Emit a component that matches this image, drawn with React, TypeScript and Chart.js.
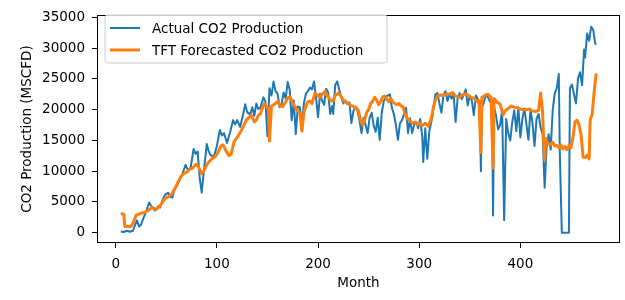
import React, { useEffect, useRef } from "react";
import { Chart, registerables } from "chart.js";

Chart.register(...registerables);

const FONT_FAMILY = "'DejaVu Sans', 'Liberation Sans', sans-serif";
const FONT_SIZE = 13.5;

const actualLabel = "Actual CO2 Production";
const forecastLabel = "TFT Forecasted CO2 Production";
const xTitle = "Month";
const yTitle = "CO2 Production (MSCFD)";

const xTickValues = [0, 100, 200, 300, 400];
const yTickValues = [0, 5000, 10000, 15000, 20000, 25000, 30000, 35000];

const actualMonths = [
  5, 8, 11, 14, 17, 19, 21, 23, 25, 28,
  30, 33, 36, 39, 42, 44, 46, 49, 52, 54,
  56, 58, 61, 63, 66, 69, 71, 74, 77, 79,
  81, 83, 85, 87, 90, 92, 94, 97, 100, 103,
  105, 107, 110, 113, 116, 118, 120, 123, 126, 128,
  130, 133, 135, 137, 139, 141, 143, 146, 148, 150,
  152, 154, 156, 158, 160, 162, 164, 166, 168, 170,
  172, 174, 176, 178, 180, 182, 184, 186, 188, 190,
  192, 194, 196, 198, 200, 202, 204, 206, 208, 210,
  212, 214, 215, 217, 219, 221, 223, 225, 227, 229,
  231, 233, 235, 237, 239, 241, 243, 245, 247, 249,
  251, 253, 255, 257, 259, 261, 263, 265, 268, 271,
  273, 275, 277, 279, 281, 283, 285, 287, 289, 291,
  293, 295, 297, 299, 301, 303, 304, 306, 308, 310,
  313, 316, 318, 320, 322, 324, 326, 328, 330, 332,
  334, 336, 338, 340, 342, 344, 346, 348, 350, 352,
  354, 356, 358, 360, 361, 362, 364, 366, 368, 370,
  372, 373, 374, 376, 378, 380, 382, 384, 386, 388,
  390, 392, 394, 396, 398, 400, 402, 404, 406, 408,
  410, 412, 414, 416, 418, 420, 422, 424, 426, 428,
  430, 432, 434, 436, 438, 439, 441, 448, 449, 451,
  453, 455, 457, 459, 461, 463, 464, 466, 468, 470,
  472, 474, 475,
];

const actualValues = [
  200, 100, 300, 150, 300, 1200, 2000, 1000, 1300, 2600,
  3400, 4900, 4100, 3600, 4300, 4100, 5200, 6200, 6500, 5800,
  5700, 7000, 7800, 8600, 9600, 11000, 10300, 10500, 13600, 12800,
  13200, 8900, 6500, 9800, 14400, 13200, 12600, 12300, 14100, 16700,
  15800, 16200, 14600, 16300, 18300, 17600, 18300, 17200, 19300, 20900,
  19600, 19200, 20400, 19000, 21000, 20100, 20300, 22000, 21300, 15700,
  23500, 22300, 24600, 23000, 22600, 20400, 21000, 22800, 21800, 24500,
  23200, 18300, 21500, 16000, 20500, 20400, 17500, 21000, 22600, 23000,
  23600, 23300, 24600, 22000, 18800, 22600, 21500, 20800, 23400, 22800,
  19300, 20600, 19300, 24000, 24600, 23200, 22000, 21000, 21500, 20900,
  21200, 17800, 19800, 20500, 19800, 18200, 16200, 18700, 17500, 16200,
  18700, 19500, 17400, 16400, 18700, 15100, 19500, 21400, 22200, 22500,
  20300, 19300, 17500, 15100, 17800, 18300, 19300, 20300, 16200, 18600,
  16200, 17500, 18000, 17000, 18500, 15700, 11500, 17000, 12000, 16500,
  18800, 22500, 22700, 21000, 19500, 22400, 23000, 21400, 22600, 21800,
  22500, 18000, 21900, 22700, 21700, 22400, 23300, 20700, 22300, 21500,
  19100, 22300, 21700, 20000, 10000, 20400, 21200, 22500, 22000, 21300,
  21600, 2800, 20500, 19000, 16800, 17500, 20000, 2000, 18500, 16200,
  15000, 18000, 19900, 16500, 20400, 15500, 18500, 20200, 17600, 15100,
  20000, 17800, 14100, 18500, 19300, 17100, 16000, 7300, 14000, 16000,
  13500, 20000, 22700, 23500, 25800, 13000, 0, 0, 23500, 24100,
  22500, 21000, 25100, 26100, 24000, 29800, 28500, 32400, 31200, 33500,
  33000, 30800, 30600,
];

const forecastMonths = [
  5, 8, 9, 12, 15, 17, 20, 23, 26, 29,
  32, 36, 40, 43, 46, 49, 52, 55, 58, 61,
  64, 67, 70, 73, 76, 79, 81, 83, 85, 87,
  90, 92, 95, 98, 101, 104, 106, 109, 112, 114,
  117, 120, 123, 126, 129, 132, 134, 137, 139, 141,
  143, 145, 147, 149, 151, 152, 154, 157, 160, 162,
  165, 168, 170, 172, 174, 176, 178, 180, 182, 184,
  186, 188, 190, 192, 194, 197, 200, 202, 204, 207,
  209, 211, 213, 215, 217, 220, 222, 224, 226, 228,
  230, 232, 234, 236, 238, 240, 242, 244, 246, 248,
  250, 252, 254, 256, 258, 260, 262, 264, 266, 268,
  270, 272, 274, 276, 278, 280, 282, 284, 286, 288,
  290, 292, 294, 296, 298, 300, 303, 306, 309, 312,
  314, 316, 318, 321, 324, 327, 330, 333, 336, 339,
  342, 345, 348, 351, 354, 357, 359, 361, 362, 365,
  368, 371, 373, 374, 377, 380, 383, 385, 388, 391,
  394, 397, 400, 403, 406, 409, 412, 415, 418, 420,
  422, 423, 424, 425, 427, 430, 432, 434, 436, 438,
  440, 442, 444, 446, 448, 450, 452, 454, 456, 458,
  460, 462, 464, 466, 468, 469, 471, 473, 475,
];

const forecastValues = [
  3100, 3000, 1000, 1000, 1000, 1500, 2800, 3000, 3200, 3300,
  3600, 4100, 3800, 4200, 4900, 5600, 5800, 6200, 7000, 8000,
  9000, 9600, 9800, 10300, 10500, 11100, 10900, 10300, 9600, 10000,
  11000, 11500, 12000, 12300, 13000, 14100, 14300, 13300, 12500, 12700,
  14800, 15500, 16300, 17200, 18300, 18800, 19100, 18000, 18300, 19100,
  19300, 20300, 21000, 20500, 20000, 14900, 20600, 20900, 21300, 20700,
  20500, 21300, 21900, 22100, 21500, 20800, 20300, 19800, 19500, 16500,
  19500, 20600, 21300, 21400, 21000, 22700, 22300, 22000, 22500, 23000,
  22300, 21800, 21400, 21500, 22300, 22700, 22300, 21800, 21300, 21200,
  21000, 20700, 20600, 20400, 20300, 19800, 18300, 17500, 18300, 19500,
  20000, 21000, 21400, 22000, 21500, 20800, 21300, 22100, 22200, 21700,
  21300, 21800, 21200, 21000, 20800, 21000, 20600, 20500, 19300, 18600,
  18300, 18000, 17800, 18000, 17600, 17800, 17400, 17800, 17300, 18600,
  20400, 21500, 22200, 22400, 22300, 22600, 22500, 22800, 22200, 22000,
  22300, 22600, 22400, 22000, 21900, 21400, 21500, 13000, 22000, 22300,
  22500, 22000, 10500, 21800, 21200, 20900, 19200, 19800, 20200, 20600,
  20400, 20300, 20100, 20000, 20000, 20100, 19800, 19700, 19900, 22700,
  19600, 15000, 11800, 15300, 14500, 14300, 14700, 14100, 14200, 13800,
  14300, 13600, 14000, 13500, 14200, 13800, 15500, 18000, 18300, 17500,
  16000, 12300, 12200, 12600, 12000, 18300, 19300, 23000, 25900,
];

const toPoints = (xs: number[], ys: number[]) =>
  xs.map((x, i) => ({ x, y: ys[i] }));

const framePlugin = {
  id: "frame",
  afterDatasetsDraw(chart: any) {
    const { left, top, right, bottom } = chart.chartArea;
    const c = chart.ctx;
    c.save();
    c.strokeStyle = "#000";
    c.lineWidth = 1;
    c.strokeRect(Math.round(left) + 0.5, Math.round(top) + 0.5, Math.round(right - left) - 1, Math.round(bottom - top) - 1);
    c.restore();
  },
};

const legendPlugin = {
  id: "innerLegend",
  afterDraw(chart: any) {
    const c = chart.ctx;
    const x0 = 105, y0 = 15, w = 282, h = 48, r = 3;
    c.save();
    c.beginPath();
    c.moveTo(x0 + r, y0);
    c.lineTo(x0 + w - r, y0);
    c.quadraticCurveTo(x0 + w, y0, x0 + w, y0 + r);
    c.lineTo(x0 + w, y0 + h - r);
    c.quadraticCurveTo(x0 + w, y0 + h, x0 + w - r, y0 + h);
    c.lineTo(x0 + r, y0 + h);
    c.quadraticCurveTo(x0, y0 + h, x0, y0 + h - r);
    c.lineTo(x0, y0 + r);
    c.quadraticCurveTo(x0, y0, x0 + r, y0);
    c.closePath();
    c.fillStyle = "rgba(255,255,255,0.8)";
    c.fill();
    c.strokeStyle = "#cccccc";
    c.lineWidth = 1;
    c.stroke();
    chart.data.datasets.forEach((ds: any, i: number) => {
      const y = 28 + i * 22;
      c.beginPath();
      c.moveTo(110, y);
      c.lineTo(140, y);
      c.strokeStyle = ds.borderColor;
      c.lineWidth = ds.borderWidth;
      c.lineCap = "butt";
      c.stroke();
      c.fillStyle = "#000";
      c.font = `${FONT_SIZE}px ${FONT_FAMILY}`;
      c.textBaseline = "middle";
      c.textAlign = "left";
      c.fillText(ds.label, 152, y + 1);
    });
    c.restore();
  },
};

export default function App() {
  const ref = useRef<HTMLCanvasElement>(null);

  useEffect(() => {
    const canvas = ref.current;
    if (!canvas) return;
    const font = { family: FONT_FAMILY, size: FONT_SIZE };
    const chart = new Chart(canvas, {
      type: "line",
      data: {
        datasets: [
          {
            label: actualLabel,
            data: toPoints(actualMonths, actualValues),
            borderColor: "#1f77b4",
            backgroundColor: "#1f77b4",
            borderWidth: 2,
            pointRadius: 0,
            tension: 0,
            fill: false,
            borderJoinStyle: "round",
            order: 1,
          },
          {
            label: forecastLabel,
            data: toPoints(forecastMonths, forecastValues),
            borderColor: "#ff7f0e",
            backgroundColor: "#ff7f0e",
            borderWidth: 3,
            pointRadius: 0,
            tension: 0,
            fill: false,
            borderJoinStyle: "round",
            order: 0,
          },
        ],
      },
      options: {
        animation: false,
        responsive: false,
        maintainAspectRatio: false,
        layout: { padding: { left: 0, right: 5, top: 8, bottom: 0 } },
        plugins: {
          legend: { display: false },
          tooltip: { enabled: false },
        },
        scales: {
          x: {
            type: "linear",
            min: -18.5,
            max: 498.5,
            afterBuildTicks: (s: any) => {
              s.ticks = xTickValues.map((v) => ({ value: v }));
            },
            afterFit: (s: any) => {
              s.height = 57;
            },
            grid: { drawOnChartArea: false, drawTicks: true, tickLength: 5, color: "#000" },
            border: { display: false },
            ticks: {
              color: "#000",
              font,
              padding: 8,
              maxRotation: 0,
              autoSkip: false,
              callback: (v: any) => String(v),
            },
            title: {
              display: true,
              text: xTitle,
              color: "#000",
              font,
              padding: { top: 2, bottom: 8 },
            },
          },
          y: {
            type: "linear",
            min: -1685,
            max: 35385,
            afterBuildTicks: (s: any) => {
              s.ticks = yTickValues.map((v) => ({ value: v }));
            },
            afterFit: (s: any) => {
              s.width = 97;
            },
            grid: { drawOnChartArea: false, drawTicks: true, tickLength: 5, color: "#000" },
            border: { display: false },
            ticks: {
              color: "#000",
              font,
              padding: 7,
              autoSkip: false,
              callback: (v: any) => String(v),
            },
            title: {
              display: true,
              text: yTitle,
              color: "#000",
              font,
              padding: { top: 19, bottom: 0 },
            },
          },
        },
      },
      plugins: [framePlugin, legendPlugin],
    } as any);
    return () => chart.destroy();
  }, []);

  return (
    <div style={{ position: "absolute", left: 0, top: 0, width: 625, height: 300, background: "#fff" }}>
      <canvas ref={ref} width={625} height={300} style={{ display: "block" }} />
    </div>
  );
}
